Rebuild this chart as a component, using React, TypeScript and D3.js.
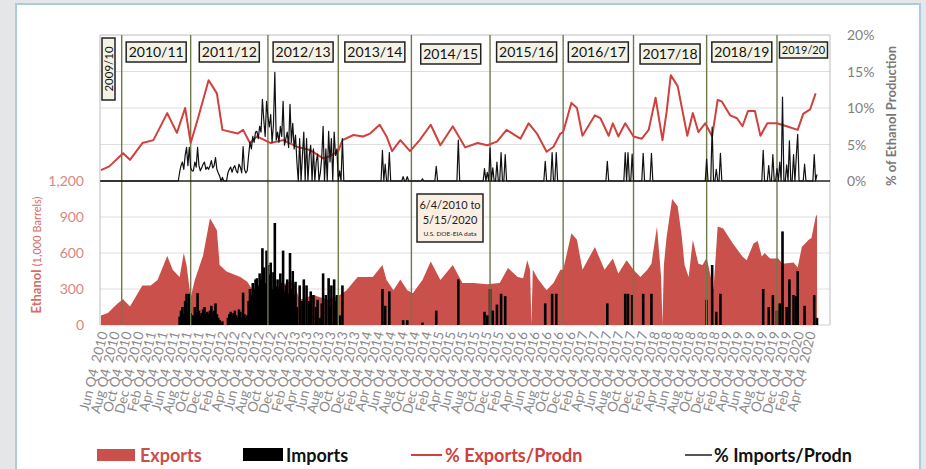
import React from "react";
import * as d3 from "d3";

// ---------- DATA (week index = weeks since 6/4/2010) ----------
const exportWeeks = [0,5,12,16,21,30,36,41,48,52,57,60,62,65,68,74,79,84,86,91,101,106,110,120,130,139,144,154,164,173,178,186,193,197,204,207,212,217,222,226,233,239,246,255,262,270,280,289,295,302,306,309,311,312,313,317,323,328,333,335,341,345,349,358,365,371,375,381,386,391,396,399,403,406,407,408,410,414,418,421,423,426,429,433,436,439,442,444,447,451,458,465,468,473,476,479,481,485,491,494,502,505,508,513,515,518,519];
const exportKb = [80,100,180,215,155,330,330,375,575,460,400,600,500,230,375,580,890,790,500,445,400,360,290,260,330,375,210,250,210,250,290,400,400,400,500,375,290,380,290,265,375,530,375,500,350,350,340,350,475,400,390,540,460,0,460,380,290,350,460,460,765,710,460,650,460,555,430,540,460,400,460,510,820,400,0,500,735,1050,990,735,500,400,710,510,500,560,400,300,820,805,680,570,540,680,700,570,600,555,555,510,520,480,650,710,725,900,920];

const exportPctWeeks = [0,6,16,21,30,38,48,55,61,65,70,78,84,88,99,103,108,113,123,132,142,152,161,166,172,175,183,190,195,202,207,211,217,224,231,239,246,255,264,273,280,287,294,304,310,316,323,328,333,335,341,345,349,358,362,368,371,375,380,386,392,397,402,407,410,413,418,425,429,433,438,443,447,450,456,461,465,469,474,478,483,490,497,505,509,514,518];
const exportPct = [1.5,2.0,3.8,2.9,5.2,5.6,9.3,6.6,10.0,5.2,8.4,13.8,12.0,7.0,6.5,7.0,5.2,6.1,5.2,5.6,4.7,4.2,3.1,3.4,4.1,5.6,6.3,6.1,6.5,7.7,6.1,4.1,5.6,4.1,5.6,7.7,4.9,7.5,4.6,5.2,4.9,5.4,7.0,5.8,7.9,6.5,4.0,4.7,6.5,6.7,10.7,10.0,6.2,9.0,8.6,6.2,7.9,6.1,7.9,6.1,5.8,7.0,11.4,5.6,9.5,14.5,13.0,6.2,9.3,6.7,7.9,6.1,11.1,10.9,9.0,8.6,7.5,9.6,9.6,6.2,7.9,7.9,7.5,7.0,9.2,9.8,12.0];

const importWeeks = [57,58,59,60,61,62,63,64,65,66,67,68,69,70,71,72,73,74,75,76,77,78,79,80,81,82,83,84,85,86,88,92,93,94,95,96,97,98,99,100,101,102,103,104,105,106,107,108,109,110,111,112,113,114,115,116,117,118,119,120,121,122,123,124,125,126,127,128,129,130,131,132,133,134,135,136,137,138,139,140,141,142,144,146,147,149,151,152,154,156,157,159,160,161,163,165,166,167,169,170,171,173,175,
  204,206,209,219,222,233,243,259,278,280,282,284,287,290,293,322,327,330,367,380,382,385,393,399,439,443,446,449,480,484,487,490,492,494,497,499,502,504,505,510,517,519];
const importKb = [70,120,150,90,200,260,120,260,100,80,80,150,110,265,120,80,100,130,150,90,110,90,120,160,100,120,180,90,60,40,30,60,90,110,70,100,120,80,60,130,110,60,270,90,60,80,200,300,250,350,300,380,390,330,430,380,640,480,350,620,500,420,520,300,440,850,320,380,300,430,350,620,280,330,380,260,600,300,450,250,360,150,330,200,380,330,200,280,250,150,210,60,180,430,250,390,150,330,380,200,250,80,330,
  300,160,280,40,40,20,120,380,110,80,300,120,170,260,240,180,260,260,180,260,260,250,260,260,210,500,110,260,300,150,250,120,180,780,150,380,250,240,450,160,250,60];
const importPct = [1.2,2.1,2.6,1.6,3.5,4.6,2.1,4.6,1.8,1.4,1.4,2.6,1.9,4.6,2.1,1.4,1.8,2.3,2.6,1.6,1.9,1.6,2.1,2.8,1.8,2.1,3.2,1.6,1.1,0.7,0.5,1.1,1.6,1.9,1.2,1.8,2.1,1.4,1.1,2.3,1.9,1.1,4.7,1.6,1.1,1.4,3.5,5.3,4.4,6.1,5.3,6.7,6.8,5.8,7.5,6.7,11.2,8.4,6.1,10.9,8.8,7.4,9.1,5.3,7.7,14.9,5.6,6.7,5.3,7.5,6.1,10.9,4.9,5.8,6.7,4.6,10.5,5.3,7.9,4.4,6.3,2.6,5.8,3.5,6.7,5.8,3.5,4.9,4.4,2.6,3.7,1.1,3.2,7.5,4.4,6.8,2.6,5.8,6.7,3.5,4.4,1.4,5.8,
  4.2,2.3,3.9,0.6,0.6,0.3,2.0,5.6,1.7,1.2,4.5,1.8,2.6,3.9,3.6,2.7,3.9,3.9,2.7,3.9,3.9,3.7,3.8,3.8,3.0,7.4,1.6,3.8,4.2,2.1,3.6,1.7,2.6,11.5,2.2,5.5,3.6,3.4,6.4,2.3,3.6,0.9];

// marketing-year boundaries (week index) and labels
const yearLineWeeks = [15,65,121,172,225,282,335,386,439,490];
const yearLabels = ["2010/11","2011/12","2012/13","2013/14","2014/15","2015/16","2016/17","2017/18","2018/19","2019/20"];
const firstYearLabel = "2009/10";

const kbTicks = [0,300,600,900,1200];
const pctTicks = [0,5,10,15,20];
const tickMonths = ["Jun","Aug","Oct","Dec","Feb","Apr"];
const tickYears = [2010,2011,2012,2013,2014,2015,2016,2017,2018,2019];

const legendItems = ["Exports","Imports","% Exports/Prodn","% Imports/Prodn"];

// ---------- LAYOUT ----------
const W = 926, H = 469;
const PL = 100, PR = 830, PT = 35, PM = 181, PB = 325;
const AREA = "#c9504b";
const RED = "#d0403d";
const FONT = "Lato, 'Open Sans', sans-serif";

export default function App() {
  const x = d3.scaleLinear().domain([0, 519]).range([101, 817]);
  const yPct = d3.scaleLinear().domain([0, 20]).range([PM, PT]);
  const yKb = d3.scaleLinear().domain([0, 1200]).range([PB, PM]);

  const start = new Date(2010, 5, 4);
  const weekOf = (d: Date) => d3.timeDay.count(start, d) / 7;

  const exportData = exportWeeks.map((w, i) => ({ w, v: exportKb[i] }));
  const area = d3.area<{ w: number; v: number }>()
    .x(d => x(d.w)).y0(yKb(0)).y1(d => yKb(d.v));

  const expPctData = exportPctWeeks.map((w, i) => ({ w, v: exportPct[i] }));
  const line = d3.line<{ w: number; v: number }>().x(d => x(d.w)).y(d => yPct(d.v));

  const impMap = new Map<number, number>();
  importWeeks.forEach((w, i) => impMap.set(w, importPct[i]));
  const impPctData = d3.range(0, 520).map(w => ({ w, v: impMap.get(w) ?? 0 }));

  // x tick labels
  const ticks: { label: string; w: number }[] = [];
  tickYears.forEach(y => {
    tickMonths.forEach((m, mi) => {
      const monthIdx = [5, 7, 9, 11, 1, 3][mi];
      const year = mi >= 4 ? y + 1 : y;
      const d = new Date(year, monthIdx, 24);
      ticks.push({ label: `${m} Q4  ${year}`, w: weekOf(d) });
    });
  });

  const yearLineX = yearLineWeeks.map(w => x(w));
  const labelCenters = yearLineX.map((lx, i) => (i < yearLineX.length - 1 ? (lx + yearLineX[i + 1]) / 2 : (lx + PR) / 2));

  return (
    <svg width={W} height={H} style={{ position: "absolute", left: 0, top: 0 }} fontFamily={FONT}>
      <rect x={0} y={0} width={W} height={H} fill="#e4e6e8" />
      <rect x={16} y={4} width={904} height={470} fill="#ffffff" stroke="#a9cbe8" strokeWidth={2} />

      {/* gridlines */}
      {pctTicks.filter(t => t > 0).map(t => (
        <line key={"gp" + t} x1={PL} x2={PR} y1={yPct(t)} y2={yPct(t)} stroke={t === 20 ? "#bdbdbd" : "#dedede"} strokeWidth={1} />
      ))}
      {kbTicks.filter(t => t > 0 && t < 1200).map(t => (
        <line key={"gk" + t} x1={PL} x2={PR} y1={yKb(t)} y2={yKb(t)} stroke="#dedede" strokeWidth={1} />
      ))}
      <line x1={PL} x2={PL} y1={PT} y2={PB} stroke="#bdbdbd" />
      <line x1={PR} x2={PR} y1={PT} y2={PB} stroke="#bdbdbd" />
      <line x1={PL} x2={PR} y1={PB} y2={PB} stroke="#d0d0d0" />

      {/* exports area */}
      <path d={area(exportData) || ""} fill={AREA} />

      {/* imports bars */}
      {importWeeks.map((w, i) => (
        <rect key={"ib" + i} x={x(w) - 1.3} width={2.6} y={yKb(importKb[i])} height={yKb(0) - yKb(importKb[i])} fill="#000" />
      ))}

      {/* marketing year lines */}
      {yearLineX.map((lx, i) => (
        <line key={"yl" + i} x1={lx} x2={lx} y1={PT} y2={PB} stroke="#6d7a4c" strokeWidth={1.4} />
      ))}

      {/* baseline between panels */}
      <line x1={PL} x2={PR} y1={PM} y2={PM} stroke="#222" strokeWidth={1.3} />

      {/* % exports line */}
      <path d={line(expPctData) || ""} fill="none" stroke={RED} strokeWidth={2} strokeLinejoin="round" />
      {/* % imports line */}
      <path d={line(impPctData) || ""} fill="none" stroke="#111" strokeWidth={1.2} strokeLinejoin="round" />

      {/* year label boxes */}
      <g>
        <rect x={102} y={38} width={13} height={62} fill="#f4f2e4" stroke="#222" strokeWidth={1.5} />
        <text transform={`translate(112.5,69) rotate(-90)`} textAnchor="middle" fontSize={11.5} fill="#111">{firstYearLabel}</text>
      </g>
      {yearLabels.map((t, i) => {
        const small = i === yearLabels.length - 1;
        const w = small ? 48 : 60;
        const h = small ? 16 : 20;
        const cx = labelCenters[i];
        const yTop = i === 4 || i === 7 ? 44 : 42;
        return (
          <g key={"yb" + i}>
            <rect x={cx - w / 2} y={yTop} width={w} height={h} fill="#f4f2e4" stroke="#222" strokeWidth={1.5} />
            <text x={cx} y={yTop + h / 2 + (small ? 4 : 5)} textAnchor="middle" fontSize={small ? 11 : 14} fill="#111">{t}</text>
          </g>
        );
      })}

      {/* date range note */}
      <rect x={417} y={194} width={66} height={48} fill="#fbeee3" stroke="#222" strokeWidth={1.5} />
      <text x={450} y={209} textAnchor="middle" fontSize={11} fill="#222">6/4/2010 to</text>
      <text x={450} y={224} textAnchor="middle" fontSize={11} fill="#222">5/15/2020</text>
      <text x={450} y={236} textAnchor="middle" fontSize={6.5} fill="#222">U.S. DOE-EIA data</text>

      {/* left axis */}
      {kbTicks.map(t => (
        <text key={"lk" + t} x={84} y={yKb(t) + 5} textAnchor="end" fontSize={14} fill="#d98680">{d3.format(",")(t)}</text>
      ))}
      <text transform={`translate(41,255) rotate(-90)`} textAnchor="middle" fill="#d56c67">
        <tspan fontSize={13} fontWeight="bold">Ethanol </tspan>
        <tspan fontSize={11}>(1,000 Barrels)</tspan>
      </text>

      {/* right axis */}
      {pctTicks.map(t => (
        <text key={"rp" + t} x={847} y={yPct(t) + 5} textAnchor="start" fontSize={14} fill="#808080">{t + "%"}</text>
      ))}
      <text transform={`translate(896,116) rotate(-90)`} textAnchor="middle" fontSize={13} fontWeight="bold" fill="#777">% of Ethanol Production</text>

      {/* x tick labels */}
      {ticks.map((t, i) => (
        <text key={"xt" + i} transform={`translate(${x(t.w) + 3},333) rotate(-76)`} textAnchor="end" fontSize={13.5} fill="#8a8a8a" style={{ whiteSpace: "pre" }}>{t.label}</text>
      ))}

      {/* legend */}
      <g fontWeight="bold" fontSize={18}>
        <rect x={97} y={449} width={38} height={12} fill={AREA} />
        <text x={140} y={462} fill={AREA}>{legendItems[0]}</text>
        <rect x={243} y={448} width={40} height={13} fill="#000" />
        <text x={286} y={462} fill="#111">{legendItems[1]}</text>
        <line x1={411} x2={442} y1={455} y2={455} stroke={RED} strokeWidth={2} />
        <text x={445} y={462} fill={RED}>{legendItems[2]}</text>
        <line x1={685} x2={712} y1={455} y2={455} stroke="#555" strokeWidth={2} />
        <text x={714} y={462} fill="#111">{legendItems[3]}</text>
      </g>
    </svg>
  );
}
